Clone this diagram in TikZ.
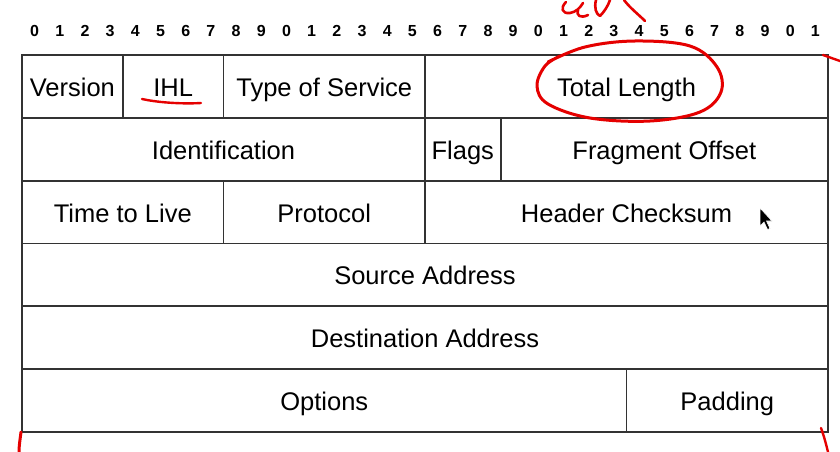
\documentclass[tikz,border=0pt]{standalone}
\usepackage{fontspec}
\setmainfont{Liberation Sans}
\usetikzlibrary{positioning}

\begin{document}
\begin{tikzpicture}[
  x=1pt, y=-1pt,
  font=\fontsize{25.5}{28}\selectfont,
  % field boxes
  field/.style={draw=black!80, line width=1.8pt, rectangle, minimum height=62.8pt, inner sep=0pt, text height=20pt, text depth=0pt},
  bitnum/.style={font=\fontsize{16}{17}\selectfont\bfseries, inner sep=0pt},
  % red pen marks
  pen/.style={draw=red!90!black, line width=3pt, line cap=round, line join=round},
  cursor/.style={fill=black, draw=white, line width=0.6pt}
]
  \useasboundingbox (0,0) rectangle (840,452);

  % ==========================================
  % BIT NUMBERS
  % ==========================================
  \foreach \i in {0,...,31}{
    \pgfmathtruncatemacro{\d}{mod(\i,10)}
    \node[bitnum] (bit\i) at ({22+(\i+0.5)*25.1875},31) {\d};
  }

  % ==========================================
  % ROW 1 (y = 86.4)
  % ==========================================
  \node[field, minimum width=100.75pt] (version) at (72.4,86.4) {Version};
  \node[field, minimum width=100.75pt] (ihl) at (173.1,86.4) {IHL};
  \node[field, minimum width=201.5pt] (tos) at (324.25,86.4) {Type of Service};
  \node[field, minimum width=403pt] (totlen) at (626.5,86.4) {Total Length};

  % ==========================================
  % ROW 2 (y = 149.2)
  % ==========================================
  \node[field, minimum width=403pt] (ident) at (223.5,149.2) {Identification};
  \node[field, minimum width=75.56pt] (flags) at (462.8,149.2) {Flags};
  \node[field, minimum width=327.4pt] (fragoff) at (664.3,149.2) {Fragment Offset};

  % ==========================================
  % ROW 3 (y = 212)
  % ==========================================
  \node[field, minimum width=201.5pt] (ttl) at (122.75,212) {Time to Live};
  \node[field, minimum width=201.5pt] (proto) at (324.25,212) {Protocol};
  \node[field, minimum width=403pt] (chksum) at (626.5,212) {Header Checksum};

  % ==========================================
  % ROWS 4-6
  % ==========================================
  \node[field, minimum width=806pt] (srcaddr) at (425,274.8) {Source Address};
  \node[field, minimum width=806pt] (dstaddr) at (425,337.6) {Destination Address};
  \node[field, minimum width=604.5pt] (options) at (324.25,400.4) {Options};
  \node[field, minimum width=201.5pt] (padding) at (727.25,400.4) {Padding};

  % mouse pointer
  \draw[cursor] (760,208) -- (760,226) -- (764,222) -- (767.5,229.5) -- (770,228.5) -- (766.5,221) -- (772,221) -- cycle;

  % ==========================================
  % RED PEN ANNOTATIONS
  % ==========================================
  \draw[pen] plot[smooth, tension=0.6] coordinates {(560,56) (545,66) (537,86) (548,104) (590,118) (650,121) (700,112) (721,92) (717,67) (690,46) (635,41) (585,47) (548,62)};
  \draw[pen, line width=2.4pt] (142,99) .. controls (160,103) and (185,104) .. (201,103);
  % handwriting above the bit numbers
  \draw[pen, line width=2.6pt] (566,2) .. controls (560,8) and (562,14) .. (570,13) .. controls (576,12) and (580,8) .. (583,3);
  \draw[pen, line width=2.6pt] (578,10) .. controls (576,15) and (580,19) .. (588,15);
  \draw[pen, line width=2.6pt] (596,0) .. controls (594,8) and (596,14) .. (600,16) .. controls (604,12) and (608,6) .. (610,0);
  \draw[pen, line width=2.6pt] (624,0) .. controls (630,8) and (638,14) .. (645,21);
  % edge ticks
  \draw[pen, line width=2.4pt] (823,55) -- (840,61);
  \draw[pen] (21,432) .. controls (20,440) and (19,446) .. (19,452);
  \draw[pen, line width=2.4pt] (821,428) .. controls (824,436) and (826,444) .. (828,452);
\end{tikzpicture}
\end{document}
